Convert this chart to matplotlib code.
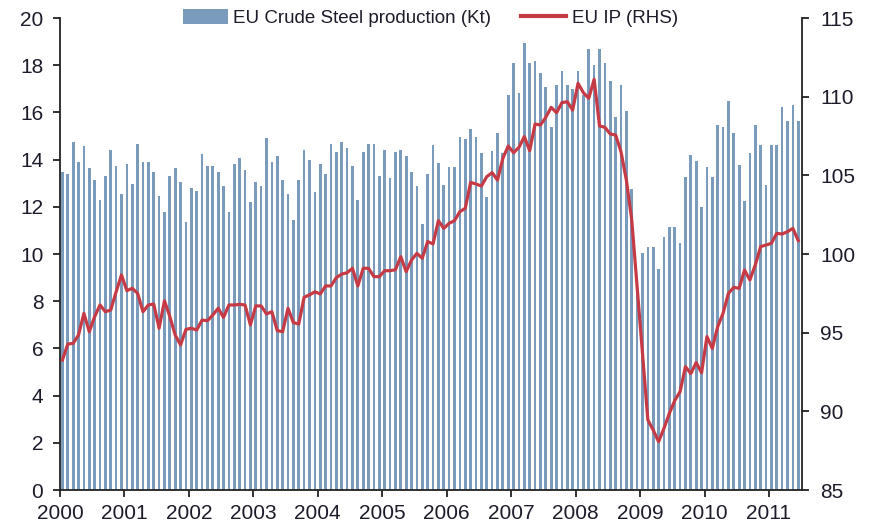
import numpy as np
import matplotlib
matplotlib.use("Agg")
import matplotlib.pyplot as plt
from matplotlib.patches import Patch
from matplotlib.lines import Line2D

plt.rcParams['font.family'] = ['Liberation Sans', 'DejaVu Sans']

years = ['2000', '2001', '2002', '2003', '2004', '2005', '2006', '2007', '2008', '2009', '2010', '2011']

# Monthly EU crude steel production, Jan 2000 - Jun 2011
steel = [
    13.46, 13.38, 14.73, 13.88, 14.56, 13.63, 13.12, 12.28, 13.29, 14.39, 13.72, 12.53,
    13.80, 12.95, 14.65, 13.88, 13.88, 13.46, 12.44, 11.77, 13.29, 13.63, 13.04, 11.34,
    12.78, 12.69, 14.22, 13.72, 13.72, 13.46, 12.87, 11.77, 13.80, 14.05, 13.55, 12.19,
    13.04, 12.87, 14.90, 13.88, 14.14, 13.12, 12.53, 11.43, 13.12, 14.39, 13.97, 12.61,
    13.80, 13.38, 14.65, 14.31, 14.73, 14.48, 13.72, 12.28, 14.31, 14.65, 14.65, 13.29,
    14.39, 13.21, 14.31, 14.39, 14.14, 13.46, 12.87, 11.26, 13.38, 14.63, 13.87, 12.94,
    13.70, 13.70, 14.97, 14.89, 15.31, 14.97, 14.29, 12.43, 14.38, 15.14, 14.29, 16.75,
    18.11, 16.84, 18.95, 18.11, 18.19, 17.68, 17.09, 15.39, 17.17, 17.77, 17.17, 17.00,
    17.77, 16.75, 18.70, 18.02, 18.70, 18.11, 17.34, 15.82, 17.17, 16.07, 12.77, 9.00,
    10.06, 10.31, 10.31, 9.38, 10.73, 11.16, 11.16, 10.48, 13.28, 14.21, 13.95, 12.00,
    13.70, 13.28, 15.48, 15.39, 16.50, 15.14, 13.78, 12.26, 14.29, 15.48, 14.63, 12.94,
    14.63, 14.63, 16.24, 15.65, 16.33, 15.65,
]

# Monthly EU industrial production index (RHS)
ip = [
    93.26, 94.28, 94.32, 94.85, 96.23, 95.06, 96.02, 96.76, 96.33, 96.44, 97.60, 98.67,
    97.67, 97.82, 97.50, 96.33, 96.76, 96.82, 95.28, 97.03, 96.02, 94.85, 94.22, 95.21,
    95.28, 95.17, 95.80, 95.76, 96.12, 96.55, 95.97, 96.76, 96.76, 96.80, 96.76, 95.49,
    96.70, 96.70, 96.19, 96.33, 95.13, 95.06, 96.55, 95.64, 95.55, 97.25, 97.40, 97.60,
    97.46, 97.97, 97.97, 98.50, 98.72, 98.81, 99.09, 97.97, 99.09, 99.09, 98.56, 98.56,
    98.94, 98.94, 99.00, 99.83, 98.88, 99.62, 100.04, 99.73, 100.79, 100.64, 102.12, 101.63,
    101.95, 102.12, 102.69, 102.90, 104.55, 104.45, 104.32, 104.91, 105.17, 104.70, 106.08, 106.86,
    106.44, 106.78, 107.46, 106.57, 108.26, 108.20, 108.69, 109.32, 108.98, 109.62, 109.68, 109.15,
    110.85, 110.25, 109.90, 111.10, 108.14, 108.05, 107.63, 107.56, 106.50, 104.70, 102.16, 97.90,
    93.60, 89.45, 88.81, 88.07, 88.92, 89.87, 90.68, 91.25, 92.84, 92.40, 93.10, 92.45,
    94.75, 94.00, 95.38, 96.23, 97.50, 97.88, 97.82, 98.98, 98.35, 99.30, 100.47, 100.57,
    100.68, 101.31, 101.27, 101.42, 101.63, 100.85,
]

bar_color = '#7b9bbd'
line_color = '#c63a46'
text_color = '#1c1c2a'

fig = plt.figure(figsize=(8.71, 5.30), dpi=100)
ax = fig.add_axes([60 / 871, 1 - 490 / 530, (802 - 60) / 871, (490 - 18) / 530])
ax2 = ax.twinx()

n = len(steel)
x = np.arange(n) + 0.45
ax.bar(x, steel, width=0.5, color=bar_color, linewidth=0, zorder=2)
ax2.plot(x, ip, color=line_color, linewidth=2.3, zorder=3, solid_joinstyle='round')

ax.set_xlim(0, 138.15)
ax.set_ylim(0, 20)
ax2.set_ylim(85, 115)
ax.set_yticks(np.arange(0, 21, 2))
ax2.set_yticks(np.arange(85, 116, 5))
ax.set_xticks(np.arange(len(years)) * 12)
ax.set_xticklabels(years)

for a in (ax, ax2):
    a.spines['top'].set_visible(False)
    for s in a.spines.values():
        s.set_linewidth(1.3)
        s.set_color('#222222')
    a.tick_params(colors='#222222', labelcolor=text_color, labelsize=15, width=1.3, length=5, direction='out')
ax.spines['right'].set_visible(False)
ax2.spines['left'].set_visible(False)
ax2.spines['bottom'].set_visible(False)
ax.tick_params(axis='y', pad=7)
ax.tick_params(axis='x', pad=5)
ax2.tick_params(axis='y', pad=8)

handles = [Patch(facecolor=bar_color, edgecolor='none'),
           Line2D([0], [0], color=line_color, linewidth=3)]
labels = ['EU Crude Steel production (Kt)', 'EU IP (RHS)']
fig.legend(handles, labels, loc='center', bbox_to_anchor=(0.494, 0.966), ncol=2,
           frameon=False, fontsize=13.5, handlelength=2.4, handleheight=0.8,
           columnspacing=1.6, handletextpad=0.3, labelcolor=text_color)

fig.savefig('out.png', dpi=100)
